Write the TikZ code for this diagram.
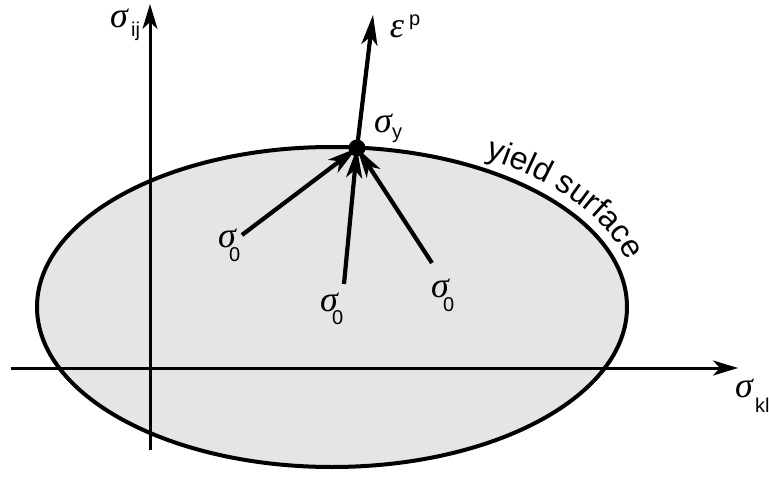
\documentclass[tikz,border=0pt]{standalone}
\usepackage{fontspec}
\setmainfont{Liberation Sans}
\newfontfamily\gkfont{Liberation Serif}
\usetikzlibrary{arrows.meta,decorations.text}
\newcommand{\gsig}{{\gkfont\itshape σ}}
\newcommand{\geps}{{\gkfont\itshape ε}}
\begin{document}
\begin{tikzpicture}[x=1pt,y=-1pt,
  axis/.style={line width=3pt,-{Stealth[length=25pt,width=15pt,inset=7pt]}},
  vec/.style={line width=4.2pt,-{Stealth[length=30pt,width=16pt,inset=8pt]}},
  lbl/.style={font=\fontsize{36}{36}\selectfont,inner sep=0pt},
  sub/.style={font=\fontsize{20}{22}\selectfont,inner sep=0pt,anchor=base west}]
\useasboundingbox (0,0) rectangle (769,479);
\fill[white] (0,0) rectangle (769,479);
% yield surface
\draw[line width=4pt,fill=black!10] (332,307) ellipse [x radius=295,y radius=160];
% axes
\coordinate (hx0) at (11,368);
\coordinate (hx1) at (738,368);
\coordinate (vy0) at (150,450);
\coordinate (vy1) at (150,4);
\draw[axis] (hx0) -- (hx1);
\draw[axis] (vy0) -- (vy1);
% points
\coordinate (sy) at (357,148);
\coordinate (ep) at (373,15);
\coordinate (s1) at (242,235);
\coordinate (s2) at (344,284);
\coordinate (s3) at (432,263);
\draw[vec] (s1) -- (sy);
\draw[vec] (s2) -- (sy);
\draw[vec] (s3) -- (sy);
\draw[vec] (sy) -- (ep);
\fill (sy) circle (8.5);
% labels
\node[lbl] (lij) at (119,18) {\gsig};
\node[sub] (lijs) at (131,36) {ij};
\node[lbl] (lkl) at (744,388) {\gsig};
\node[sub] (lkls) at (755,412) {kl};
\node[lbl] (lep) at (397,29) {\geps};
\node[sub] (leps) at (409,25) {p};
\node[lbl] (ly) at (383,123) {\gsig};
\node[sub] (lys) at (392,138) {y};
\node[lbl] (l1) at (227,238) {\gsig};
\node[sub] (l1s) at (229,261) {0};
\node[lbl] (l2) at (329,302) {\gsig};
\node[sub] (l2s) at (332,324) {0};
\node[lbl] (l3) at (440,288) {\gsig};
\node[sub] (l3s) at (443,311) {0};
\path[decorate,decoration={text along path,text align=left,
  text={|\fontsize{32}{34}\selectfont|yield surface}}]
  (485.5,158) arc[start angle=-60,end angle=0,x radius=307,y radius=172];
\end{tikzpicture}
\end{document}
